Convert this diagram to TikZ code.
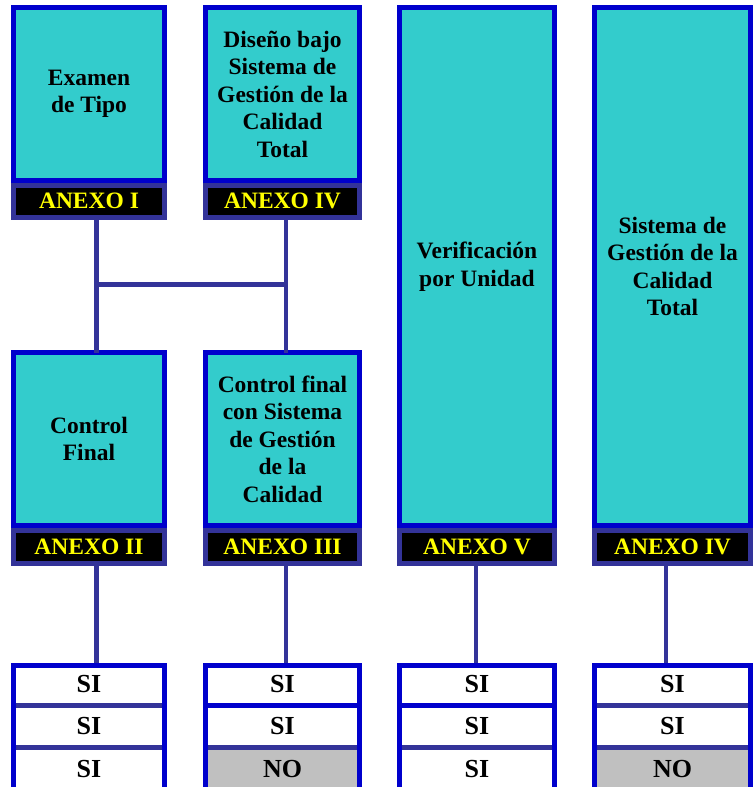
\documentclass[tikz,border=0pt]{standalone}
\usepackage{fontspec}
\setmainfont{Liberation Serif}
\definecolor{tealc}{HTML}{33CCCC}
\definecolor{boxblue}{HTML}{0000CC}
\definecolor{linepurple}{HTML}{333399}
\definecolor{noGray}{HTML}{C0C0C0}
\definecolor{yel}{HTML}{FFFF00}
\tikzset{
  tealbox/.style={draw=boxblue, line width=5pt, fill=tealc, inner sep=0pt, outer sep=0pt,
    align=center, font=\bfseries\fontsize{23.5}{27.5}\selectfont, text=black},
  anexobar/.style={draw=linepurple, line width=5pt, fill=black, inner sep=0pt, outer sep=0pt,
    font=\bfseries\fontsize{23.5}{27.5}\selectfont, text=yel},
  cell/.style={inner sep=0pt, outer sep=0pt, font=\bfseries\fontsize{26}{30}\selectfont, text=black},
  conn/.style={draw=linepurple, line width=4.5pt},
  bordblue/.style={draw=boxblue, line width=5pt},
  bordpurple/.style={draw=linepurple, line width=4.5pt},
}
\begin{document}
\begin{tikzpicture}[x=1pt,y=-1pt]
\useasboundingbox (0,0) rectangle (755,787);
\clip (0,0) rectangle (755,787);
\fill[white] (0,0) rectangle (755,787);

% ---- ANEXO bars (drawn first, boxes overlap their top)
\node[anexobar, minimum width=151, minimum height=32] (bar1) at (89,201) {ANEXO I};
\node[anexobar, minimum width=154, minimum height=32] (bar2) at (282.5,201) {ANEXO IV};
\node[anexobar, minimum width=151, minimum height=33] (bar3) at (89,546.5) {ANEXO II};
\node[anexobar, minimum width=154, minimum height=33] (bar4) at (282.5,546.5) {ANEXO III};
\node[anexobar, minimum width=155, minimum height=33] (bar5) at (477,546.5) {ANEXO V};
\node[anexobar, minimum width=156, minimum height=33] (bar6) at (672.5,546.5) {ANEXO IV};

% ---- teal boxes
\node[tealbox, minimum width=151, minimum height=173] (b1) at (89,94) {Examen\\de Tipo};
\node[tealbox, minimum width=154, minimum height=173] (b2) at (282.5,94) {Diseño bajo\\Sistema de\\Gestión de la\\Calidad\\Total};
\node[tealbox, minimum width=151, minimum height=173] (b3) at (89,439) {Control\\Final};
\node[tealbox, minimum width=154, minimum height=173] (b4) at (282.5,439) {Control final\\con Sistema\\de Gestión\\de la\\Calidad};
\node[tealbox, minimum width=155, minimum height=518] (b5) at (477,266.5) {Verificación\\por Unidad};
\node[tealbox, minimum width=156, minimum height=518] (b6) at (672.5,266.5) {Sistema de\\Gestión de la\\Calidad\\Total};

% ---- connectors
\coordinate (j1) at (96.5,284.5);
\coordinate (j2) at (286,284.5);
\draw[conn] ([xshift=7.5pt]bar1.south) -- ([xshift=7.5pt]b3.north);
\draw[conn] ([xshift=3.5pt]bar2.south) -- ([xshift=3.5pt]b4.north);
\draw[conn] (j1) -- (j2);

% ---- tables
% column 1
\node[cell, fill=white, minimum width=156, minimum height=43] (t1a) at (89,684) {SI};
\node[cell, fill=white, minimum width=156, minimum height=42] (t1b) at (89,726.5) {SI};
\node[cell, fill=white, minimum width=156, minimum height=44] (t1c) at (89,769.5) {SI};
% column 2
\node[cell, fill=white, minimum width=159, minimum height=43] (t2a) at (282.5,684) {SI};
\node[cell, fill=white, minimum width=159, minimum height=42] (t2b) at (282.5,726.5) {SI};
\node[cell, fill=noGray, minimum width=159, minimum height=44] (t2c) at (282.5,769.5) {NO};
% column 3
\node[cell, fill=white, minimum width=160, minimum height=43] (t3a) at (477,684) {SI};
\node[cell, fill=white, minimum width=160, minimum height=42] (t3b) at (477,726.5) {SI};
\node[cell, fill=white, minimum width=160, minimum height=44] (t3c) at (477,769.5) {SI};
% column 4
\node[cell, fill=white, minimum width=161, minimum height=43] (t4a) at (672.5,684) {SI};
\node[cell, fill=white, minimum width=161, minimum height=42] (t4b) at (672.5,726.5) {SI};
\node[cell, fill=noGray, minimum width=161, minimum height=44] (t4c) at (672.5,769.5) {NO};

% separators
\draw[bordpurple] (t1a.south west) -- (t1a.south east);
\draw[bordpurple] (t1b.south west) -- (t1b.south east);
\draw[bordblue]   (t2a.south west) -- (t2a.south east);
\draw[bordpurple] (t2b.south west) -- (t2b.south east);
\draw[bordblue]   (t3a.south west) -- (t3a.south east);
\draw[bordpurple] (t3b.south west) -- (t3b.south east);
\draw[bordpurple] (t4a.south west) -- (t4a.south east);
\draw[bordpurple] (t4b.south west) -- (t4b.south east);

% outer borders (blue, open at the cut-off bottom)
\foreach \c in {1,2,3,4}{
  \draw[bordblue] ([xshift=2.5pt]t\c c.south west) -- ([xshift=2.5pt,yshift=-2.5pt]t\c a.north west)
     -- ([xshift=-2.5pt,yshift=-2.5pt]t\c a.north east) -- ([xshift=-2.5pt]t\c c.south east);
}

% lower connectors
\draw[conn] ([xshift=7.5pt]bar3.south) -- ([xshift=7.5pt]t1a.north);
\draw[conn] ([xshift=3.5pt]bar4.south) -- ([xshift=3.5pt]t2a.north);
\draw[conn] ([xshift=-1pt]bar5.south) -- ([xshift=-1pt]t3a.north);
\draw[conn] ([xshift=-6.5pt]bar6.south) -- ([xshift=-6.5pt]t4a.north);
\end{tikzpicture}
\end{document}
